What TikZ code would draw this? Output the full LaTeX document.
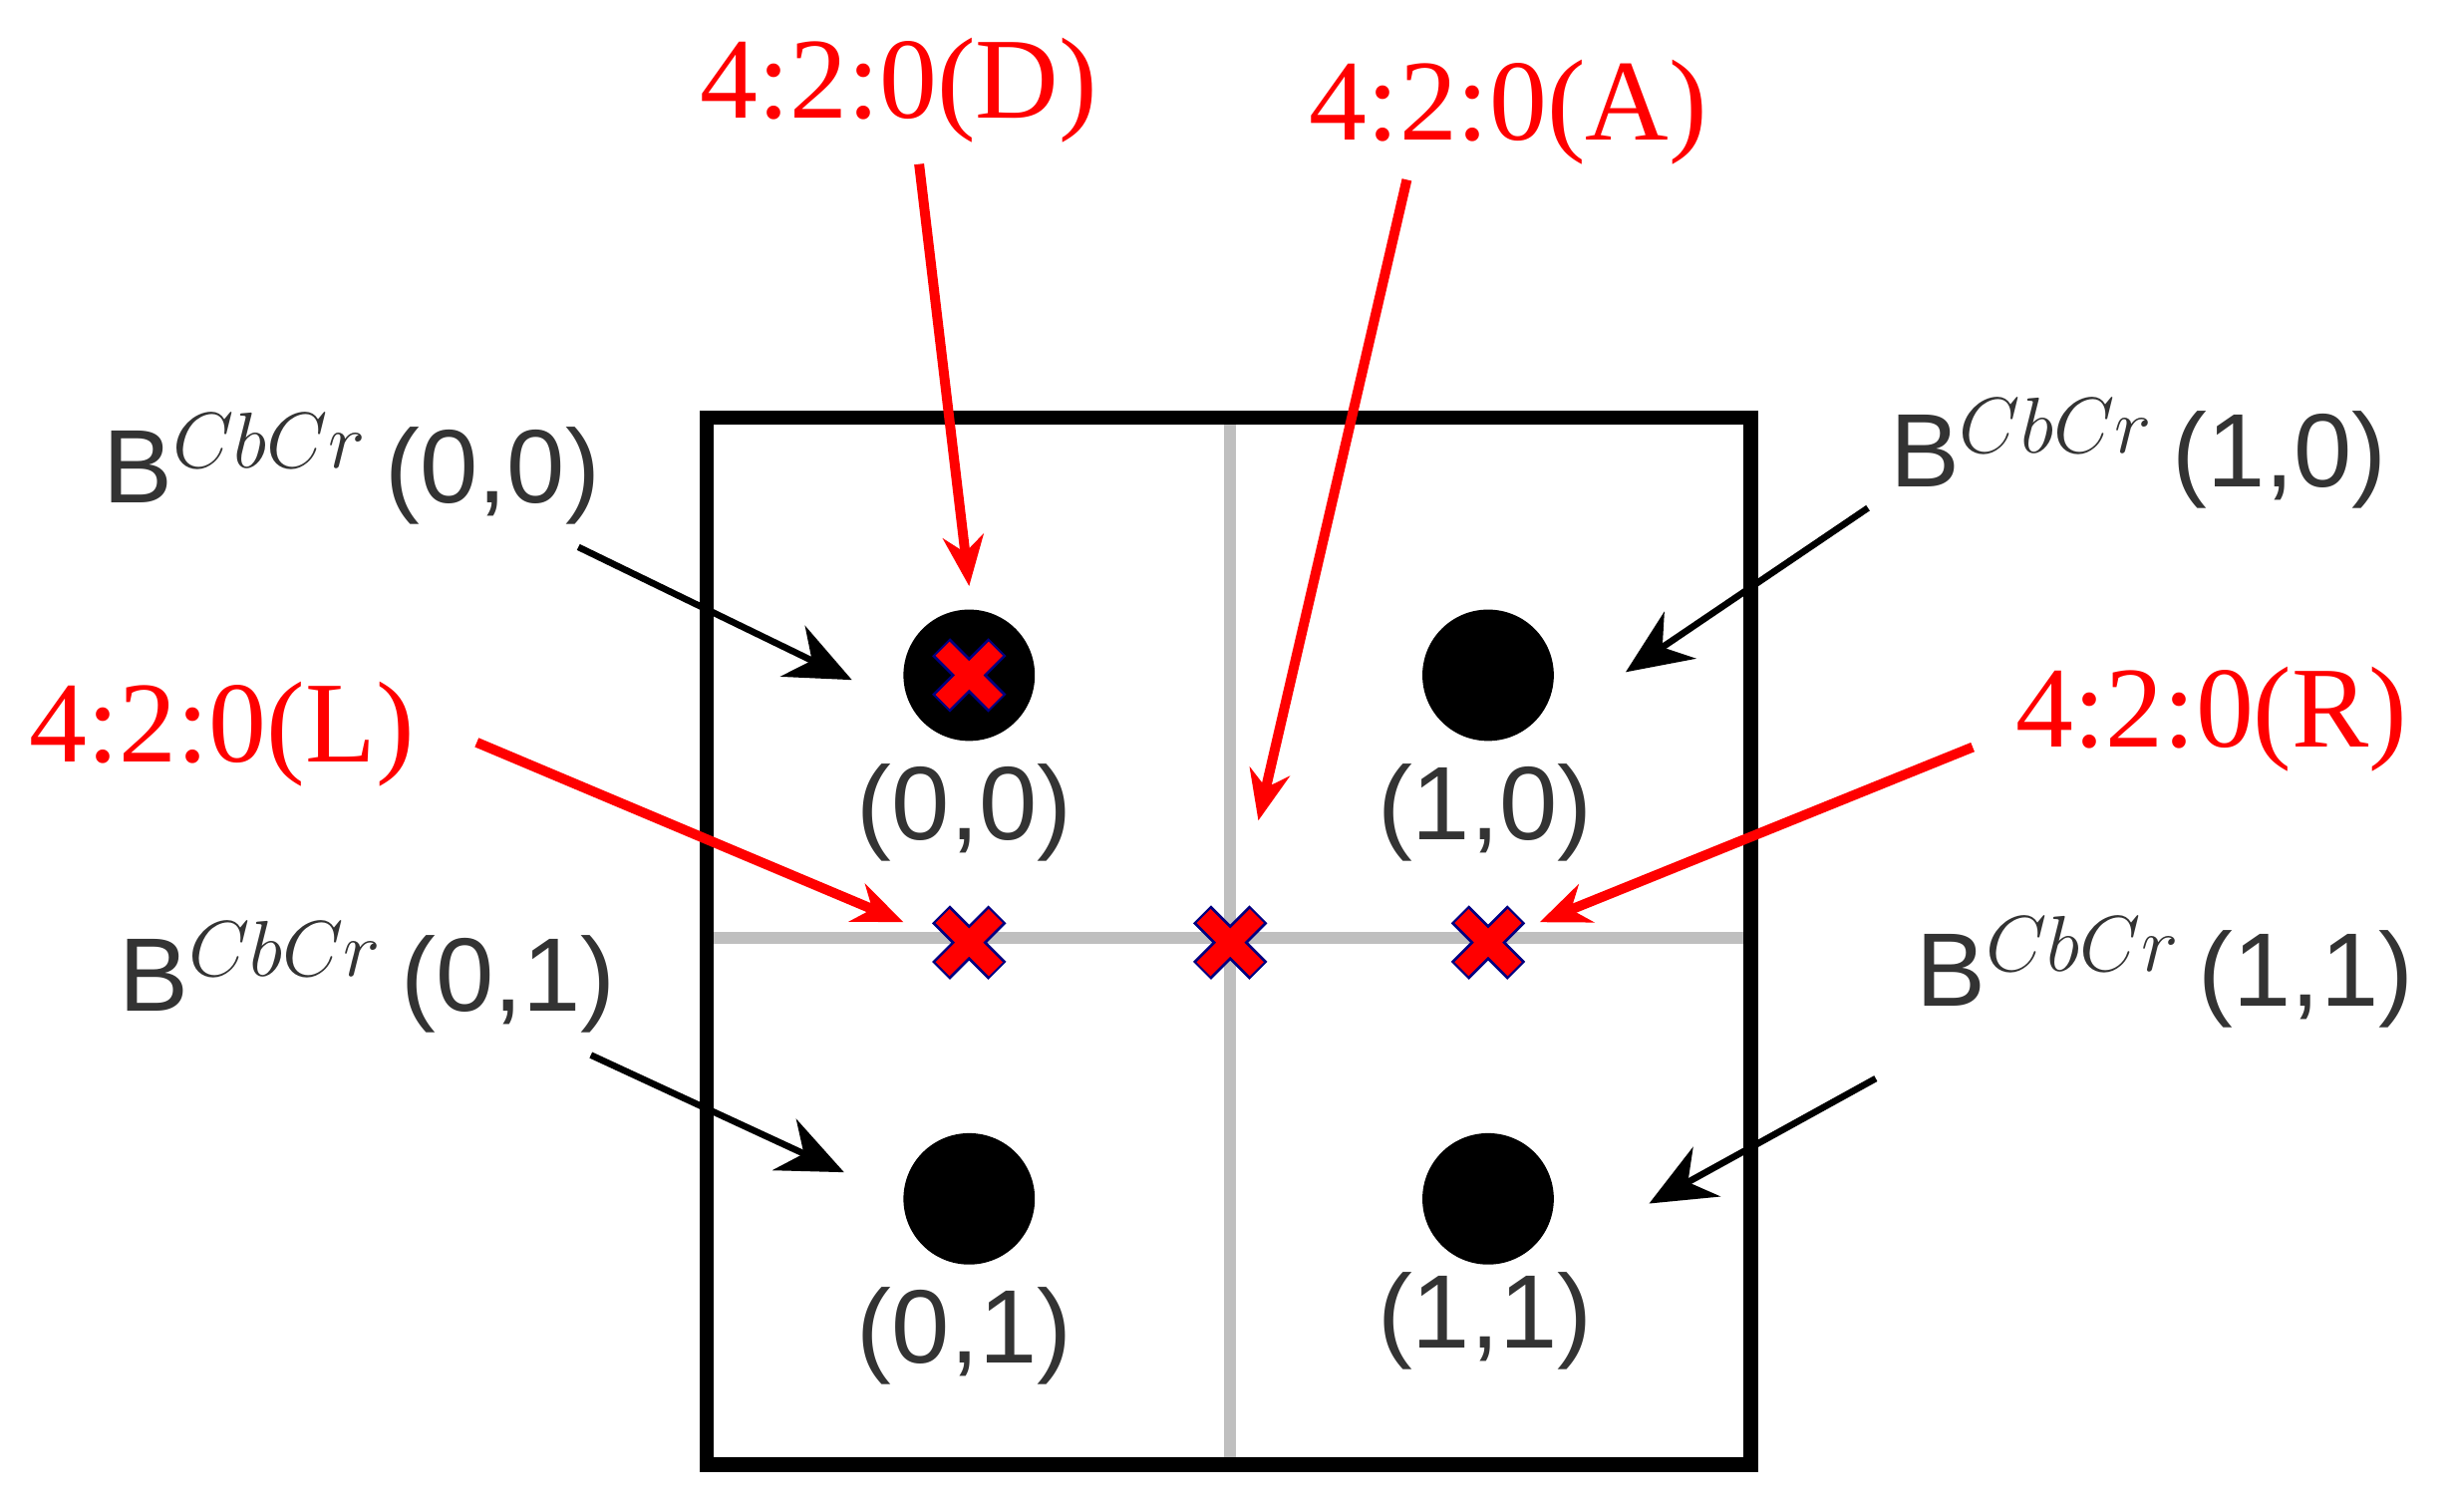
\documentclass[tikz,border=0pt]{standalone}
\usepackage{fontspec}
\setmainfont{Liberation Serif}
\setsansfont{Liberation Sans}
\usetikzlibrary{arrows.meta}
\begin{document}
\begin{tikzpicture}[x=0.01cm,y=-0.01cm,
  redlbl/.style={text=red,font=\fontsize{21}{24}\selectfont},
  blk/.style={font=\sffamily\fontsize{19}{22}\selectfont,text=black!80},
  dot/.style={circle,fill=black,minimum size=0.84cm,inner sep=0},
  bar/.style={arrows={-Stealth[length=0.42cm,width=0.36cm]},line width=1.2pt},
  rar/.style={red,arrows={-Stealth[length=0.32cm,width=0.26cm]},line width=1.8pt},
  xo/.style={blue!50!black,line width=4.6pt},
  xi/.style={red,line width=3.6pt}]
\useasboundingbox (0,0) rectangle (1568,967);
\draw[gray!50,line width=2.2pt] (787,270) -- (787,934) (455,600) -- (1117,600);
\draw[line width=2.6pt] (452,267) rectangle (1120,937);
\node[dot] (d00) at (620,432) {};
\node[dot] (d10) at (952,432) {};
\node[dot] (d01) at (620,767) {};
\node[dot] (d11) at (952,767) {};
\node[blk] at (617,520) {(0,0)};
\node[blk] at (950,520) {(1,0)};
\node[blk] at (617,855) {(0,1)};
\node[blk] at (950,845) {(1,1)};
\node[blk] (b00) at (225,300) {B$^{CbCr}$\,(0,0)};
\node[blk] (b10) at (1368,290) {B$^{CbCr}$\,(1,0)};
\node[blk] (b01) at (235,625) {B$^{CbCr}$\,(0,1)};
\node[blk] (b11) at (1385,622) {B$^{CbCr}$\,(1,1)};
\coordinate (s00) at (370,350); \coordinate (t00) at (545,435);
\coordinate (s10) at (1195,325); \coordinate (t10) at (1040,430);
\coordinate (s01) at (378,675); \coordinate (t01) at (540,750);
\coordinate (s11) at (1200,690); \coordinate (t11) at (1055,770);
\draw[bar] (s00) -- (t00);
\draw[bar] (s10) -- (t10);
\draw[bar] (s01) -- (t01);
\draw[bar] (s11) -- (t11);
\foreach \n/\x/\y in {cD/620/432,cL/620/603,cA/787/603,cR/952/603}{
  \coordinate (\n) at (\x,\y);
  \draw[xo] (\x-18,\y-18) -- (\x+18,\y+18) (\x-18,\y+18) -- (\x+18,\y-18);
  \draw[xi] (\x-17,\y-17) -- (\x+17,\y+17) (\x-17,\y+17) -- (\x+17,\y-17);
}
\node[redlbl] (lD) at (575,58) {4:2:0(D)};
\node[redlbl] (lA) at (965,72) {4:2:0(A)};
\node[redlbl] (lL) at (142,470) {4:2:0(L)};
\node[redlbl] (lR) at (1415,460) {4:2:0(R)};
\coordinate (aD1) at (588,105); \coordinate (aD2) at (620,375);
\coordinate (aA1) at (900,115); \coordinate (aA2) at (805,525);
\coordinate (aL1) at (305,475); \coordinate (aL2) at (578,590);
\coordinate (aR1) at (1262,478); \coordinate (aR2) at (985,590);
\draw[rar] (aD1) -- (aD2);
\draw[rar] (aA1) -- (aA2);
\draw[rar] (aL1) -- (aL2);
\draw[rar] (aR1) -- (aR2);
\end{tikzpicture}
\end{document}
